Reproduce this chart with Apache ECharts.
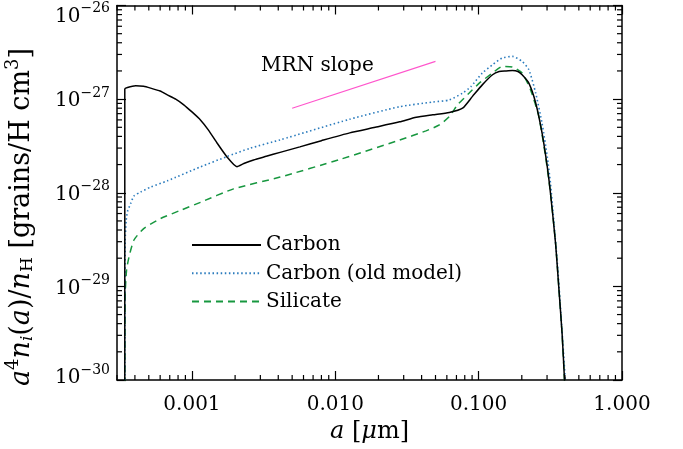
<!DOCTYPE html>
<html>
<head>
<meta charset="utf-8">
<script src="https://cdn.jsdelivr.net/npm/echarts@6/dist/echarts.min.js"></script>
<style>html,body{margin:0;padding:0;background:#fff}#c{width:683px;height:449px}</style>
</head>
<body>
<div id="c"></div>
<script>
// ---- data (grain radius a in micron, a^4 n(a)/nH) ----
const carbonSize = [3.4e-4, 3.4e-4, 3.55e-4, 4.05e-4, 4.6e-4, 5.15e-4, 6.0e-4, 6.73e-4, 7.7e-4, 8.77e-4, 1.0e-3, 1.146e-3, 1.3e-3, 1.5e-3, 1.75e-3, 2.06e-3, 2.3e-3, 2.69e-3, 3.3e-3, 4.12e-3, 5.66e-3, 8.0e-3, 1.26e-2, 1.9e-2, 2.81e-2, 3.67e-2, 4.78e-2, 6.24e-2, 7.72e-2, 9.06e-2, 0.106, 0.125, 0.139, 0.155, 0.172, 0.188, 0.201, 0.224, 0.25, 0.277, 0.301, 0.317, 0.344, 0.362, 0.382, 0.397, 0.40];
const carbonValue = [5e-31, 1.28e-27, 1.33e-27, 1.39e-27, 1.37e-27, 1.31e-27, 1.22e-27, 1.11e-27, 1.0e-27, 8.7e-28, 7.3e-28, 6.0e-28, 4.7e-28, 3.38e-28, 2.43e-28, 1.90e-28, 2.05e-28, 2.24e-28, 2.45e-28, 2.7e-28, 3.09e-28, 3.6e-28, 4.36e-28, 5.0e-28, 5.72e-28, 6.4e-28, 6.8e-28, 7.2e-28, 8.0e-28, 1.07e-27, 1.42e-27, 1.82e-27, 1.97e-27, 2.0e-27, 2.02e-27, 1.97e-27, 1.82e-27, 1.48e-27, 9.1e-28, 4.33e-28, 1.9e-28, 9.9e-29, 2.88e-29, 9.9e-30, 3.14e-30, 1e-30, 7e-31];

const oldSize = [3.4e-4, 3.42e-4, 3.48e-4, 3.55e-4, 3.74e-4, 3.94e-4, 4.39e-4, 5.15e-4, 6.73e-4, 1.146e-3, 1.75e-3, 2.55e-3, 4.12e-3, 1.26e-2, 2.81e-2, 4.78e-2, 6.24e-2, 7.72e-2, 8.83e-2, 0.106, 0.125, 0.146, 0.172, 0.201, 0.224, 0.25, 0.277, 0.301, 0.317, 0.334, 0.357, 0.377, 0.402, 0.405];
const oldValue = [5e-31, 3e-29, 5.1e-29, 6.3e-29, 7.7e-29, 9.25e-29, 1.02e-28, 1.15e-28, 1.34e-28, 1.89e-28, 2.43e-28, 2.99e-28, 3.67e-28, 6.1e-28, 8.3e-28, 9.3e-28, 9.8e-28, 1.16e-27, 1.36e-27, 1.9e-27, 2.33e-27, 2.75e-27, 2.86e-27, 2.53e-27, 2.06e-27, 1.16e-27, 5.5e-28, 2.43e-28, 1.26e-28, 5.1e-29, 1.5e-29, 4.4e-30, 1e-30, 7e-31];

const silSize = [3.4e-4, 3.42e-4, 3.5e-4, 3.64e-4, 3.94e-4, 4.63e-4, 6.04e-4, 8.55e-4, 1.146e-3, 1.95e-3, 4.12e-3, 1.06e-2, 2.81e-2, 4.29e-2, 5.32e-2, 6.24e-2, 7.13e-2, 8.59e-2, 0.101, 0.125, 0.146, 0.172, 0.201, 0.23, 0.263, 0.293, 0.317, 0.344, 0.362, 0.382, 0.397, 0.40];
const silValue = [5e-31, 8e-30, 1.5e-29, 2.07e-29, 3.13e-29, 4.17e-29, 5.3e-29, 6.6e-29, 7.9e-29, 1.1e-28, 1.47e-28, 2.25e-28, 3.65e-28, 4.58e-28, 5.3e-28, 6.5e-28, 8.7e-28, 1.16e-27, 1.48e-27, 1.9e-27, 2.23e-27, 2.2e-27, 1.9e-27, 1.26e-27, 6.5e-28, 2.43e-28, 9.9e-29, 2.9e-29, 1e-29, 3.1e-30, 1e-30, 7e-31];

const mrnSize = [0.005, 0.05];
const mrnValue = [8.0e-28, 2.53e-27];

const seriesNames = ['Carbon', 'Carbon (old model)', 'Silicate'];
const xRange = [3e-4, 1];
const yRange = [1e-30, 1e-26];
const xMajorTicks = [0.001, 0.01, 0.1, 1];
const yMajorTicks = [1e-30, 1e-29, 1e-28, 1e-27, 1e-26];

// ---- helpers: axes are drawn in log10 space ----
const L = Math.log10;
const zip = (a, b) => a.map((v, i) => [L(v), L(b[i])]);
const FONT = 'DejaVu Serif';

const xMinor = [];
for (let k = -4; k <= -1; k++) for (let m = 2; m <= 9; m++) { const v = m * Math.pow(10, k); if (v > xRange[0] && v < xRange[1]) xMinor.push([L(v), -28]); }
const yMinor = [];
for (let k = -30; k <= -27; k++) for (let m = 2; m <= 9; m++) { const v = m * Math.pow(10, k); if (v > yRange[0] && v < yRange[1]) yMinor.push([-2, L(v)]); }

const chart = echarts.init(document.getElementById('c'), null, {renderer: 'canvas'});

function axisBase() {
  return {
    type: 'value',
    axisLine: {show: true, onZero: false, lineStyle: {color: '#000', width: 1.5}},
    axisTick: {show: true, inside: true, length: 9, lineStyle: {color: '#000', width: 1.2}},
    splitLine: {show: false},
    minorTick: {show: false},
    minorSplitLine: {show: false}
  };
}
const xMajorLog = xMajorTicks.map(L);
const yMajorLog = yMajorTicks.map(v => Math.round(L(v)));

const xBottom = axisBase();
Object.assign(xBottom, {
  min: L(xRange[0]), max: L(xRange[1]), position: 'bottom',
  axisLabel: {
    show: true, margin: 15, fontFamily: FONT, fontSize: 20, color: '#000',
    customValues: xMajorLog,
    formatter: v => Math.pow(10, v).toFixed(3)
  },
  name: '{i|a}{r| [}{i|μ}{r|m]}', nameLocation: 'middle', nameGap: 40,
  nameTextStyle: {
    rich: {
      i: {fontFamily: FONT, fontSize: 24, fontStyle: 'italic', color: '#000'},
      r: {fontFamily: FONT, fontSize: 24, color: '#000'}
    }
  }
});
xBottom.axisTick.customValues = xMajorLog;
const xTop = axisBase();
Object.assign(xTop, {min: L(xRange[0]), max: L(xRange[1]), position: 'top', axisLabel: {show: false}});
xTop.axisTick.customValues = xMajorLog;

const yLeft = axisBase();
Object.assign(yLeft, {
  min: L(yRange[0]), max: L(yRange[1]), interval: 1, position: 'left',
  axisLabel: {
    show: true, margin: 7, color: '#000',
    customValues: yMajorLog,
    formatter: v => {
      const e = Math.round(v);
      const s = String(e).replace('-', '\u2212');
      if (e === -26) return '{bt|10}{st|' + s + '}';
      if (e === -30) return '{bb|10}{sb|' + s + '}';
      return '{b|10}{s|' + s + '}';
    },
    rich: {
      b: {fontFamily: FONT, fontSize: 20, color: '#000', padding: [4, 0, 0, 0]},
      s: {fontFamily: FONT, fontSize: 14, color: '#000', padding: [0, 0, 12, 0]},
      bt: {fontFamily: FONT, fontSize: 20, color: '#000', padding: [22, 0, 0, 0]},
      st: {fontFamily: FONT, fontSize: 14, color: '#000', padding: [6, 0, 0, 0]},
      bb: {fontFamily: FONT, fontSize: 20, color: '#000', padding: [0, 0, 5, 0]},
      sb: {fontFamily: FONT, fontSize: 14, color: '#000', padding: [0, 0, 19, 0]}
    }
  }
});
yLeft.axisTick.customValues = yMajorLog;
const yRight = axisBase();
Object.assign(yRight, {min: L(yRange[0]), max: L(yRange[1]), interval: 1, position: 'right', axisLabel: {show: false}});
yRight.axisTick.customValues = yMajorLog;

const tickLen = 5;
const option = {
  animation: false,
  backgroundColor: '#fff',
  grid: {left: 117, top: 5.5, width: 505, height: 374.5, containLabel: false, outerBoundsMode: 'none'},
  xAxis: [xBottom, xTop],
  yAxis: [yLeft, yRight],
  legend: {
    orient: 'vertical', left: 191, top: 235, padding: 0, itemWidth: 69, itemHeight: 14, itemGap: 8.3,
    data: seriesNames,
    itemStyle: {opacity: 0},
    textStyle: {fontFamily: FONT, fontSize: 20, color: '#000', lineHeight: 20}
  },
  graphic: [
    {
      type: 'text', x: 22, y: 217, rotation: Math.PI / 2,
      style: {
        x: 0, y: 0, align: 'center', verticalAlign: 'middle',
        text: '{i|a}{sup|4}{i|n}{subi|i}{r|(}{i|a}{r|)/}{i|n}{sub|H}{r| [grains/H cm}{sup|3}{r|]}',
        rich: {
          i: {fontFamily: FONT, fontSize: 27, fontStyle: 'italic', fill: '#000'},
          r: {fontFamily: FONT, fontSize: 27, fill: '#000'},
          sup: {fontFamily: FONT, fontSize: 18, fill: '#000', padding: [0, 0, 17, 0]},
          sub: {fontFamily: FONT, fontSize: 17, fill: '#000', padding: [12, 0, 0, 0]},
          subi: {fontFamily: FONT, fontSize: 17, fontStyle: 'italic', fill: '#000', padding: [12, 0, 0, 0]}
        }
      }
    },
    {
      type: 'text', x: 261, y: 66,
      style: {text: 'MRN slope', fontFamily: FONT, fontSize: 20, fill: '#000', align: 'left', verticalAlign: 'middle'}
    }
  ],
  series: [
    {
      name: seriesNames[0], type: 'line', data: zip(carbonSize, carbonValue),
      showSymbol: false, symbol: 'none', smooth: 0.2, clip: true,
      lineStyle: {color: '#000', width: 1.5, type: 'solid'}, itemStyle: {color: '#000'}, z: 5
    },
    {
      name: seriesNames[1], type: 'line', data: zip(oldSize, oldValue),
      showSymbol: false, symbol: 'none', smooth: 0.2, clip: true,
      lineStyle: {color: '#2a7bbd', width: 1.6, type: [1.5, 2.6]}, itemStyle: {color: '#2a7bbd'}, z: 4
    },
    {
      name: seriesNames[2], type: 'line', data: zip(silSize, silValue),
      showSymbol: false, symbol: 'none', smooth: 0.2, clip: true,
      lineStyle: {color: '#17973f', width: 1.5, type: [7, 5]}, itemStyle: {color: '#17973f'}, z: 3
    },
    {
      name: 'MRN', type: 'line', data: zip(mrnSize, mrnValue),
      showSymbol: false, symbol: 'none', clip: true,
      lineStyle: {color: '#ff55cc', width: 1.1}, z: 2
    },
    {
      name: 'xminor', type: 'custom', data: xMinor, clip: false, silent: true, z: 10,
      renderItem: (params, api) => {
        const v = api.value(0);
        const b = api.coord([v, L(yRange[0])]);
        const t = api.coord([v, L(yRange[1])]);
        return {type: 'group', children: [
          {type: 'line', shape: {x1: b[0], y1: b[1], x2: b[0], y2: b[1] - tickLen}, style: {stroke: '#000', lineWidth: 1.2}},
          {type: 'line', shape: {x1: t[0], y1: t[1], x2: t[0], y2: t[1] + tickLen}, style: {stroke: '#000', lineWidth: 1.2}}
        ]};
      }
    },
    {
      name: 'yminor', type: 'custom', data: yMinor, clip: false, silent: true, z: 10,
      renderItem: (params, api) => {
        const v = api.value(1);
        const l = api.coord([L(xRange[0]), v]);
        const r = api.coord([L(xRange[1]), v]);
        return {type: 'group', children: [
          {type: 'line', shape: {x1: l[0], y1: l[1], x2: l[0] + tickLen, y2: l[1]}, style: {stroke: '#000', lineWidth: 1.2}},
          {type: 'line', shape: {x1: r[0], y1: r[1], x2: r[0] - tickLen, y2: r[1]}, style: {stroke: '#000', lineWidth: 1.2}}
        ]};
      }
    }
  ]
};
chart.setOption(option);
</script>
</body>
</html>
